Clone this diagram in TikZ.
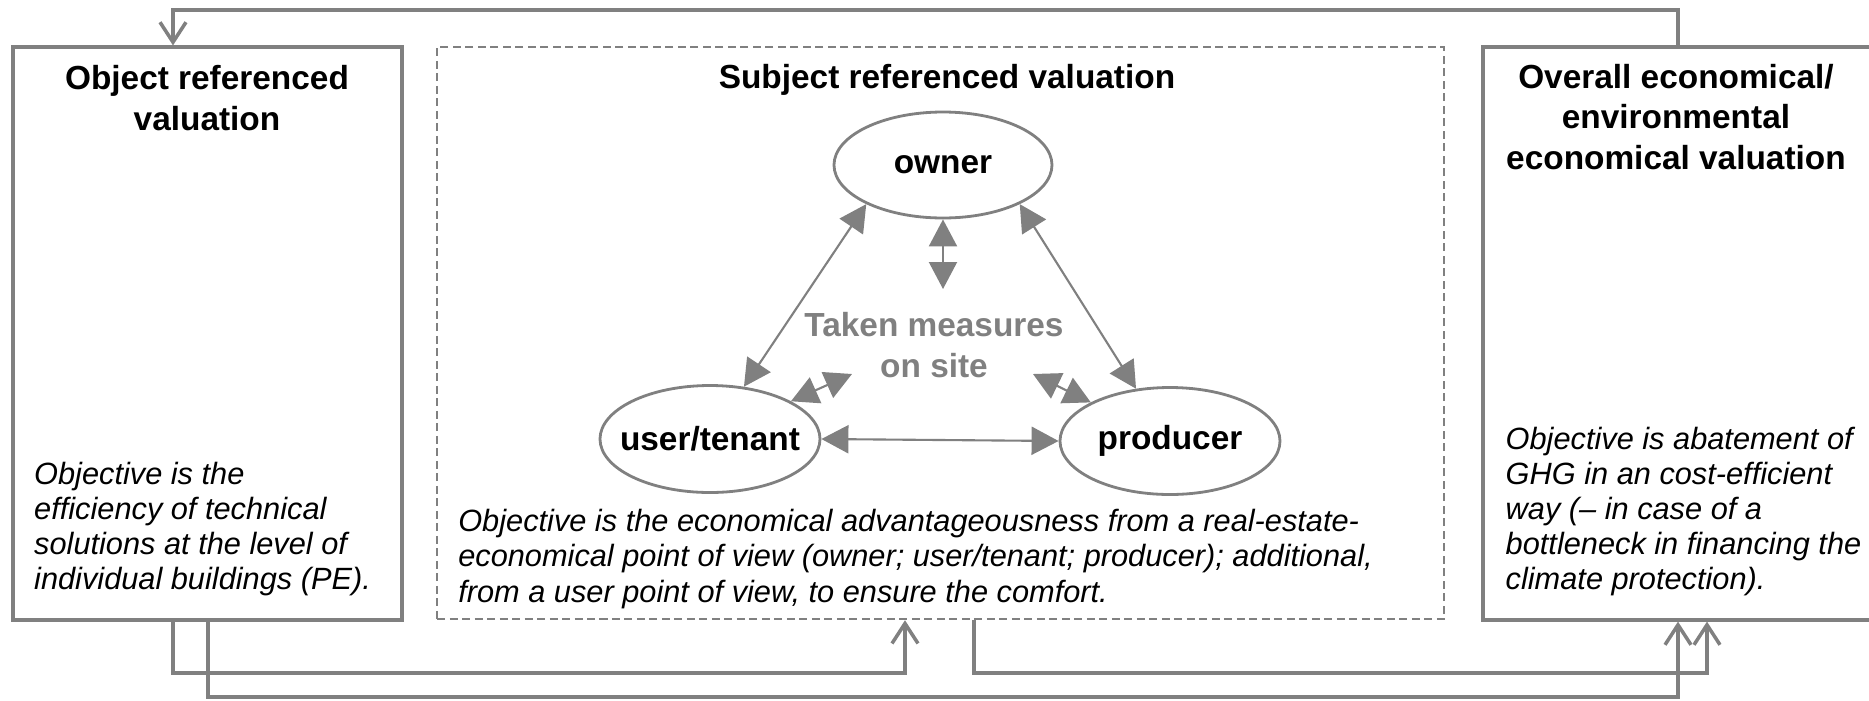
\documentclass[tikz,border=0pt]{standalone}
\usepackage{fontspec}
\setmainfont{Liberation Sans}
\usetikzlibrary{arrows.meta,shapes.geometric}
\definecolor{linegray}{HTML}{808080}
\begin{document}
\begin{tikzpicture}[
  box/.style={draw=linegray, line width=0.9pt, rectangle, inner sep=0pt},
  dashbox/.style={draw=linegray, line width=0.7pt, dash pattern=on 0.08cm off 0.045cm, rectangle, inner sep=0pt},
  party/.style={ellipse, draw=linegray, line width=0.8pt, inner sep=0pt,
    minimum width=2.2cm, minimum height=1.07cm, font=\fontsize{9.5}{11.5}\selectfont\bfseries},
  title/.style={align=center, inner sep=0pt, font=\fontsize{9.5}{11.5}\selectfont\bfseries},
  note/.style={align=left, anchor=west, inner sep=0pt, font=\fontsize{8.75}{10}\selectfont\itshape},
  link/.style={draw=linegray, line width=0.6pt,
    {Triangle[length=2.7mm,width=2.8mm]}-{Triangle[length=2.7mm,width=2.8mm]}},
  conn/.style={draw=linegray, line width=1pt, -{Straight Barb[length=2mm,width=2.6mm]}}
]
\useasboundingbox (0,0) rectangle (18.69,7.00);

% the three valuation frames
\node[box, minimum width=3.89cm, minimum height=5.73cm] (objbox) at (2.075,3.665) {};
\node[dashbox, minimum width=10.07cm, minimum height=5.72cm] (subjbox) at (9.405,3.67) {};
\node[box, minimum width=4.47cm, minimum height=5.73cm] (allbox) at (17.065,3.665) {};

% headings
\node[title] (objtitle) at (2.07,6.02) {Object referenced\\valuation};
\node[title] (subjtitle) at (9.47,6.20) {Subject referenced valuation};
\node[title] (alltitle) at (16.76,5.83) {Overall economical/\\environmental\\economical valuation};

% parties (labels kept zero-width so the ellipses keep their set size)
\node[party, minimum width=2.18cm, minimum height=1.06cm] (owner) at (9.43,5.35) {\makebox[0pt]{owner}};
\node[party] (user) at (7.10,2.61) {\makebox[0pt]{user/tenant}};
\node[party] (producer) at (11.70,2.59) {\makebox[0pt]{producer}};

\node[title, text=linegray] (measures) at (9.34,3.55) {Taken measures\\on site};

% relations between the parties
\draw[link] (owner.207) -- (user.57);
\draw[link] (owner.333) -- (producer.123);
\draw[link] (user.east) -- (producer.west);
\coordinate (ownerdown) at (9.43,4.11);
\draw[link] (owner.south) -- (ownerdown);
\coordinate (userup) at (8.52,3.26);
\draw[link] (user.25) -- (userup);
\coordinate (produp) at (10.33,3.26);
\draw[link] (producer.154) -- (produp);

% objectives
\node[note] (objnote) at (0.335,1.71) {Objective is the\\efficiency of technical\\solutions at the level of\\individual buildings (PE).};
\node[note] (subjnote) at (4.576,1.41) {Objective is the economical advantageousness from a real-estate-\\economical point of view (owner; user/tenant; producer); additional,\\from a user point of view, to ensure the comfort.};
\node[note] (allnote) at (15.05,1.885) {Objective is abatement of\\GHG in an cost-efficient\\way (– in case of a\\bottleneck in financing the\\climate protection).};

% feedback loop across the top
\coordinate (topR) at (16.78,6.90);
\coordinate (topL) at (1.73,6.90);
\draw[conn] (allbox.north -| topR) -- (topR) -- (topL) -- (objbox.north -| topL);

% links along the bottom
\coordinate (a1) at (1.73,0.27);
\coordinate (a2) at (9.05,0.27);
\draw[conn] (objbox.south -| a1) -- (a1) -- (a2) -- (subjbox.south -| a2);
\coordinate (b1) at (2.08,0.03);
\coordinate (b2) at (16.78,0.03);
\draw[conn] (objbox.south -| b1) -- (b1) -- (b2) -- (allbox.south -| b2);
\coordinate (c1) at (9.74,0.27);
\coordinate (c2) at (17.07,0.27);
\draw[conn] (subjbox.south -| c1) -- (c1) -- (c2) -- (allbox.south -| c2);
\end{tikzpicture}
\end{document}
